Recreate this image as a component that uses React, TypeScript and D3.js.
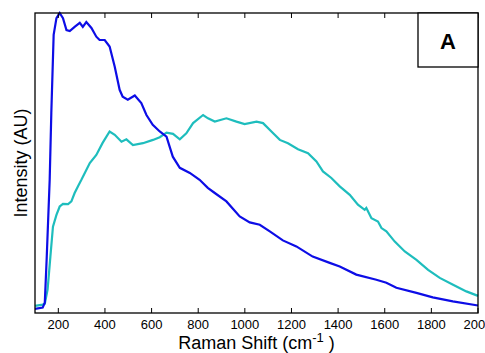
import * as d3 from "d3";

// Raman shift (cm-1) and intensity (AU)
const blueShift = [100, 133, 142, 150, 163, 170, 180, 192, 206, 220, 235, 249, 270, 292, 305, 320, 342, 363, 377, 399, 420, 442, 463, 476, 498, 528, 556, 578, 605, 635, 664, 691, 721, 764, 806, 841, 871, 921, 978, 1021, 1064, 1107, 1163, 1221, 1291, 1364, 1407, 1478, 1564, 1607, 1650, 1736, 1806, 1892, 2000];
const blueValue = [0.014, 0.018, 0.034, 0.18, 0.444, 0.667, 0.927, 0.983, 1.0, 0.983, 0.943, 0.94, 0.954, 0.967, 0.954, 0.97, 0.95, 0.921, 0.91, 0.91, 0.888, 0.821, 0.744, 0.721, 0.711, 0.725, 0.7, 0.66, 0.627, 0.605, 0.588, 0.521, 0.484, 0.467, 0.444, 0.417, 0.4, 0.372, 0.322, 0.302, 0.294, 0.272, 0.242, 0.222, 0.188, 0.167, 0.155, 0.128, 0.111, 0.101, 0.084, 0.067, 0.052, 0.039, 0.025];

const cyanShift = [100, 133, 142, 154, 166, 177, 192, 206, 220, 242, 256, 270, 284, 299, 335, 363, 390, 420, 442, 471, 492, 520, 563, 606, 635, 664, 692, 721, 749, 778, 821, 842, 871, 921, 964, 999, 1050, 1078, 1114, 1150, 1185, 1228, 1271, 1307, 1335, 1371, 1407, 1450, 1485, 1514, 1521, 1543, 1571, 1586, 1607, 1643, 1686, 1736, 1786, 1836, 1893, 1950, 2000];
const cyanValue = [0.024, 0.028, 0.031, 0.078, 0.188, 0.288, 0.327, 0.355, 0.364, 0.363, 0.372, 0.4, 0.422, 0.444, 0.5, 0.527, 0.567, 0.605, 0.594, 0.571, 0.579, 0.56, 0.566, 0.577, 0.586, 0.601, 0.597, 0.579, 0.599, 0.633, 0.66, 0.649, 0.638, 0.649, 0.638, 0.63, 0.638, 0.633, 0.605, 0.577, 0.566, 0.546, 0.533, 0.505, 0.472, 0.45, 0.422, 0.394, 0.361, 0.344, 0.35, 0.316, 0.305, 0.283, 0.272, 0.238, 0.205, 0.177, 0.144, 0.117, 0.094, 0.072, 0.057];

const xTicks = [200, 400, 600, 800, 1000, 1200, 1400, 1600, 1800, 2000];

const width = 485;
const height = 353;
const margin = { top: 13, right: 7, bottom: 40, left: 35 };
const font = "Liberation Sans, Arial, sans-serif";

export default function App() {
  const x = d3
    .scaleLinear()
    .domain([100, 2000])
    .range([margin.left, width - margin.right]);
  const y = d3
    .scaleLinear()
    .domain([0, 1])
    .range([height - margin.bottom, margin.top]);

  const line = d3
    .line<[number, number]>()
    .x((d) => x(d[0]))
    .y((d) => y(d[1]));

  const blue = blueShift.map((s, i) => [s, blueValue[i]] as [number, number]);
  const cyan = cyanShift.map((s, i) => [s, cyanValue[i]] as [number, number]);

  const x0 = x.range()[0];
  const x1 = x.range()[1];
  const y0 = y.range()[0];
  const y1 = y.range()[1];

  return (
    <svg
      width={width}
      height={height}
      style={{ position: "absolute", left: 0, top: 0, background: "#fff" }}
    >
      <path d={line(cyan) ?? ""} fill="none" stroke="#1ebdbd" strokeWidth={2.2} />
      <path d={line(blue) ?? ""} fill="none" stroke="#0d0de6" strokeWidth={2.2} />

      {/* frame */}
      <rect x={x0} y={y1} width={x1 - x0} height={y0 - y1} fill="none" stroke="#000" strokeWidth={1.3} />

      {xTicks.map((t) => (
        <g key={t}>
          <line x1={x(t)} x2={x(t)} y1={y0} y2={y0 - 5} stroke="#000" />
          <line x1={x(t)} x2={x(t)} y1={y1} y2={y1 + 5} stroke="#000" />
          <text
            x={x(t)}
            y={y0 + 16}
            textAnchor="middle"
            fontFamily={font}
            fontSize={13}
          >
            {t}
          </text>
        </g>
      ))}

      <text
        x={(x0 + x1) / 2}
        y={height - 4}
        textAnchor="middle"
        fontFamily={font}
        fontSize={18}
      >
        Raman Shift (cm
        <tspan dy={-7} fontSize={13}>-1</tspan>
        <tspan dy={7}> )</tspan>
      </text>

      <text
        transform={`translate(27,${(y0 + y1) / 2}) rotate(-90)`}
        textAnchor="middle"
        fontFamily={font}
        fontSize={18}
      >
        Intensity (AU)
      </text>

      {/* panel label */}
      <rect x={418} y={y1} width={x1 - 418} height={54} fill="#fff" stroke="#000" strokeWidth={1.3} />
      <text
        x={(418 + x1) / 2}
        y={y1 + 36}
        textAnchor="middle"
        fontFamily={font}
        fontSize={22}
        fontWeight="bold"
      >
        A
      </text>
    </svg>
  );
}
